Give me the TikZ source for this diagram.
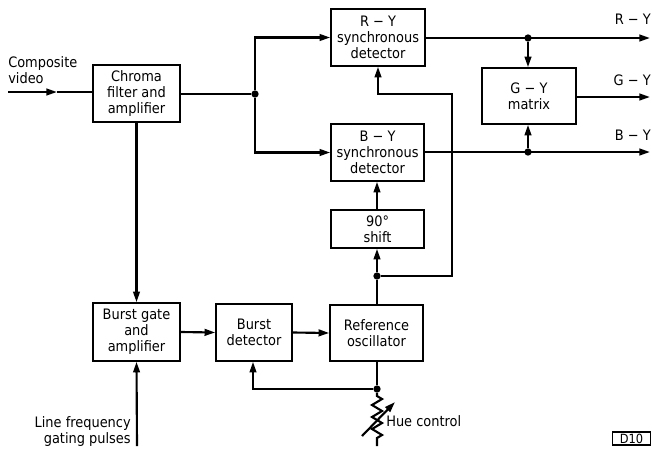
\documentclass[tikz,border=0pt]{standalone}
\usepackage{fontspec}
\setmainfont{DejaVu Sans Condensed}
\usetikzlibrary{arrows.meta}
\begin{document}
\begin{tikzpicture}[x=0.75pt,y=-0.75pt,
  txt/.style={font=\fontsize{10.8}{12}\selectfont},
  blk/.style={draw,line width=1.2pt,txt,align=center,inner sep=0pt},
  ln/.style={line width=1.6pt},
  arr/.style={ln,-{Triangle[length=8pt,width=5pt]}},
  jdot/.style={circle,fill,inner sep=0pt,minimum size=5.5pt}]
\useasboundingbox (0,0) rectangle (652,450);
% blocks
\node[blk,minimum width=87*0.75pt,minimum height=57*0.75pt] (chroma) at (136.5,93.5) {Chroma\\filter and\\amplifier};
\node[blk,minimum width=94*0.75pt,minimum height=57*0.75pt] (ry) at (378,37.5) {R − Y\\synchronous\\detector};
\node[blk,minimum width=93*0.75pt,minimum height=57*0.75pt] (by) at (377.5,152.5) {B − Y\\synchronous\\detector};
\node[blk,minimum width=94*0.75pt,minimum height=56*0.75pt] (gy) at (529,96) {G − Y\\matrix};
\node[blk,minimum width=93*0.75pt,minimum height=38*0.75pt] (shift) at (377.5,229) {90°\\shift};
\node[blk,minimum width=93*0.75pt,minimum height=56*0.75pt] (osc) at (376.5,333) {Reference\\oscillator};
\node[blk,minimum width=76*0.75pt,minimum height=57*0.75pt] (bdet) at (254,332.5) {Burst\\detector};
\node[blk,minimum width=87*0.75pt,minimum height=58*0.75pt] (bgate) at (136.5,332) {Burst gate\\and\\amplifier};
% labels
\node[txt,align=left,anchor=north west,inner sep=0pt] (lcv) at (8,56) {Composite\\video};
\node[txt,align=right,anchor=east,inner sep=0pt] (llf) at (131,432) {Line frequency\\gating pulses};
\node[txt,anchor=west,inner sep=0pt] (lhue) at (386,421) {Hue control};
\node[txt,anchor=east,inner sep=0pt] (lry) at (651,19) {R − Y};
\node[txt,anchor=east,inner sep=0pt] (lgy) at (651,80) {G − Y};
\node[txt,anchor=east,inner sep=0pt] (lby) at (651,135) {B − Y};
\node[draw,line width=1pt,font=\fontsize{9.5}{10}\selectfont,inner sep=0.5pt,minimum width=38*0.75pt,minimum height=13*0.75pt] (d10) at (631.5,438.5) {D10};
% coordinates
\coordinate (in) at (8,92);
\coordinate (inm) at (57,92);
\node[jdot] (d1) at (255,94) {};
\node[jdot] (d2) at (377,276) {};
\node[jdot] (d3) at (377,389) {};
\node[jdot] (d4) at (528,38) {};
\node[jdot] (d5) at (528,152) {};
\coordinate (ory) at (650,38);
\coordinate (ogy) at (650,97);
\coordinate (oby) at (650,152);
\coordinate (gp) at (137,446);
\coordinate (rb) at (377,446);
% connectors
\draw[arr] (in) -- (inm);
\draw[ln] (inm) -- (chroma.west |- inm);
\draw[ln] (chroma.east |- d1) -- (d1);
\draw[arr] (d1) |- (ry.west);
\draw[arr] (d1) |- (by.west);
\draw[arr] (chroma.south) -- (bgate.north);
\draw[arr] (gp) -- (bgate.south);
\draw[arr] (bgate.east) -- (bdet.west);
\draw[arr] (bdet.east) -- (osc.west);
\draw[ln] (osc.north -| d2) -- (d2);
\draw[arr] (d2) -- (shift.south -| d2);
\draw[arr] (shift.north -| d2) -- (by.south -| d2);
\draw[arr] (d2) -- (452,276) -- (452,94) -- (378,94) -- (ry.south);
\draw[ln] (osc.south -| d3) -- (d3);
\draw[arr] (d3) -- (253,389) -- (bdet.south -| 253,389);
\draw[ln,line join=miter] (d3) -- (377,396) -- (382,399) -- (372,405) -- (382,411) -- (372,417) -- (382,423) -- (372,429) -- (382,435) -- (377,438) -- (rb);
\draw[arr] (362,436) -- (395,402);
\draw[arr] (ry.east |- d4) -- (ory);
\draw[arr] (d4) -- (gy.north -| d4);
\draw[arr] (gy.east |- ogy) -- (ogy);
\draw[arr] (by.east |- d5) -- (oby);
\draw[arr] (d5) -- (gy.south -| d5);
\end{tikzpicture}
\end{document}
